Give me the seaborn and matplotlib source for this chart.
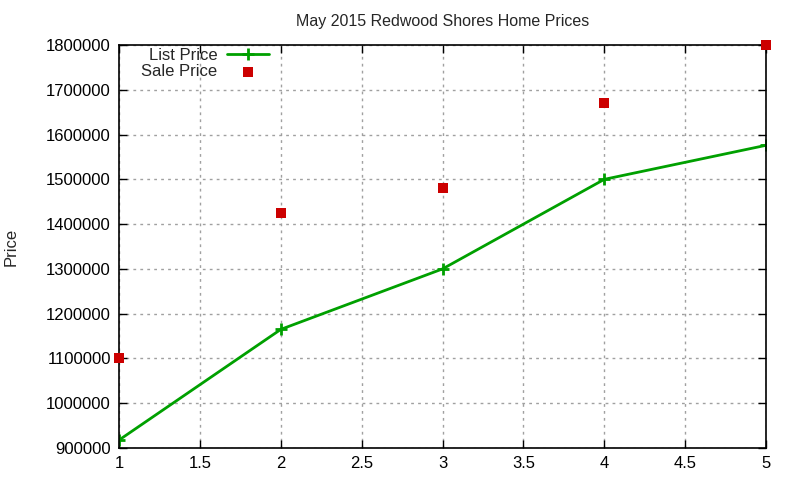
import matplotlib
matplotlib.use("Agg")
import pandas as pd
import seaborn as sns
from matplotlib import pyplot as plt

# data
x_vals = [1, 2, 3, 4, 5]
list_price = [918000, 1165000, 1300000, 1500000, 1576000]
sale_price = [1100000, 1425000, 1480000, 1671000, 1800000]

df = pd.DataFrame({"x": x_vals, "List Price": list_price, "Sale Price": sale_price})

sns.set_style("ticks")
plt.rcParams["font.family"] = ["Liberation Sans", "DejaVu Sans"]
plt.rcParams["font.size"] = 12

fig = plt.figure(figsize=(8, 4.8), dpi=100)
ax = fig.add_axes([0.149, 0.0667, 0.8085, 0.8395])

sns.lineplot(data=df, x="x", y="List Price", ax=ax, color="#00a000", linewidth=2,
             marker="+", markersize=8, markeredgewidth=2, markeredgecolor="#00a000",
             label="List Price")
sns.scatterplot(data=df, x="x", y="Sale Price", ax=ax, color="#cc0000", marker="s",
                s=45, linewidth=0, label="Sale Price", zorder=5, clip_on=False)

ax.set_xlim(1, 5)
ax.set_ylim(900000, 1800000)
ax.set_xticks([1, 1.5, 2, 2.5, 3, 3.5, 4, 4.5, 5])
ax.set_xticklabels(["1", "1.5", "2", "2.5", "3", "3.5", "4", "4.5", "5"])
ax.set_yticks(range(900000, 1800001, 100000))
ax.set_yticklabels([str(v) for v in range(900000, 1800001, 100000)])

ax.grid(True, color="#a0a0a0", linestyle=(0, (2, 3)), linewidth=1)
ax.tick_params(direction="in", length=6, width=1, top=True, right=True,
               labelsize=12, colors="black", pad=6)
for sp in ax.spines.values():
    sp.set_visible(True)
    sp.set_color("black")
    sp.set_linewidth(1.2)

ax.set_xlabel("")
ax.set_ylabel("Price", fontsize=12, labelpad=20)
ax.set_title("May 2015 Redwood Shores Home Prices", fontsize=11.5, pad=14)

leg = ax.legend(loc="upper left", bbox_to_anchor=(0.016, 1.022), frameon=False,
                markerfirst=False, fontsize=12, handlelength=2.5,
                borderaxespad=0.3, labelspacing=0.1, handletextpad=0.6)
for t in leg.get_texts():
    t.set_ha("right")

fig.savefig("out.png", dpi=100)
